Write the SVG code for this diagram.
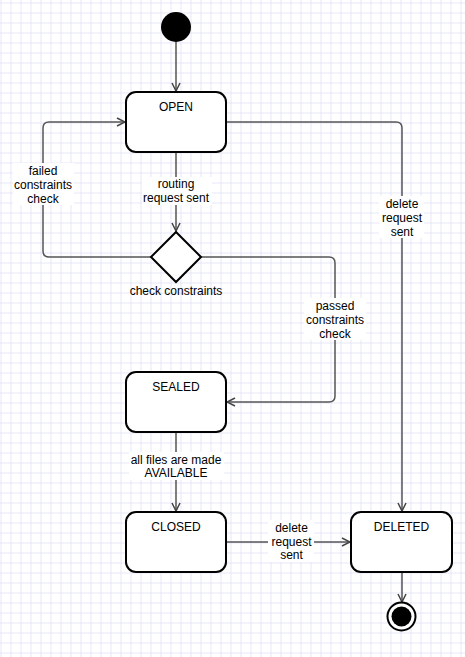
<svg xmlns="http://www.w3.org/2000/svg" width="465" height="657" viewBox="0 0 465 657">
<defs>
<pattern id="grid" x="0.5" y="2.5" width="10" height="10" patternUnits="userSpaceOnUse">
<path d="M0 0.5 H10 M0.5 0 V10" fill="none" stroke="#e6e6f7" stroke-width="1"/>
</pattern>
<marker id="arr" viewBox="0 0 10 10" refX="9" refY="5" markerWidth="10" markerHeight="10" markerUnits="userSpaceOnUse" orient="auto">
<path d="M1 1 L9 5 L1 9" fill="none" stroke="#444" stroke-width="1.5"/>
</marker>
<style>
.node{fill:#fff;stroke:#000;stroke-width:2}
.edge{fill:none;stroke:#555;stroke-width:1.5}
.t{font-family:"Liberation Sans",Arial,sans-serif;font-size:12px;fill:#000;text-anchor:middle}
.bg{fill:#fff}
</style>
</defs>
<rect width="465" height="657" fill="#fff"/>
<rect width="465" height="657" fill="url(#grid)"/>
<g id="connectors">
<path class="edge" d="M176 42 V91" marker-end="url(#arr)"/>
<path class="edge" d="M176 152 V231" marker-end="url(#arr)"/>
<path class="edge" d="M151 257 H49 Q43 257 43 251 V128 Q43 122 49 122 H125" marker-end="url(#arr)"/>
<path class="edge" d="M201 257 H329 Q335 257 335 263 V396 Q335 402 329 402 H227" marker-end="url(#arr)"/>
<path class="edge" d="M227 122 H396 Q402 122 402 128 V511" marker-end="url(#arr)"/>
<path class="edge" d="M176 432 V511" marker-end="url(#arr)"/>
<path class="edge" d="M226 542 H350" marker-end="url(#arr)"/>
<path class="edge" d="M402 572 V602" marker-end="url(#arr)"/>
<rect class="bg" x="13" y="163" width="61" height="42"/>
<text class="t" x="43" y="175">failed</text>
<text class="t" x="43" y="189">constraints</text>
<text class="t" x="43" y="203">check</text>
<rect class="bg" x="142" y="177" width="70" height="28"/>
<text class="t" x="176" y="188">routing</text>
<text class="t" x="176" y="202">request sent</text>
<rect class="bg" x="304" y="298" width="62" height="42"/>
<text class="t" x="335" y="310">passed</text>
<text class="t" x="335" y="324">constraints</text>
<text class="t" x="335" y="338">check</text>
<rect class="bg" x="379" y="196" width="45" height="42"/>
<text class="t" x="402" y="208">delete</text>
<text class="t" x="402" y="222">request</text>
<text class="t" x="402" y="236">sent</text>
<rect class="bg" x="129" y="452" width="95" height="28"/>
<text class="t" x="176" y="464">all files are made</text>
<text class="t" x="176" y="477">AVAILABLE</text>
<rect class="bg" x="268" y="520" width="46" height="42"/>
<text class="t" x="291.5" y="531.5">delete</text>
<text class="t" x="291.5" y="546">request</text>
<text class="t" x="291.5" y="559">sent</text>
</g>
<g id="start">
<circle cx="176" cy="27" r="15" fill="#000"/>
</g>
<g id="open">
<rect class="node" x="126" y="92" width="100" height="60" rx="10"/>
<text class="t" x="176" y="111">OPEN</text>
</g>
<g id="check">
<path class="node" d="M176 232 L201 257 L176 282 L151 257 Z"/>
<text class="t" x="176" y="295">check constraints</text>
</g>
<g id="sealed">
<rect class="node" x="126" y="372" width="100" height="60" rx="10"/>
<text class="t" x="176" y="391">SEALED</text>
</g>
<g id="closed">
<rect class="node" x="126" y="512" width="100" height="60" rx="10"/>
<text class="t" x="176" y="531">CLOSED</text>
</g>
<g id="deleted">
<rect class="node" x="351" y="512" width="101" height="60" rx="10"/>
<text class="t" x="401.5" y="531">DELETED</text>
</g>
<g id="end">
<circle cx="401.5" cy="616.5" r="14" fill="#fff" stroke="#000" stroke-width="2"/>
<circle cx="401.5" cy="616.5" r="10" fill="#000"/>
</g>
</svg>
